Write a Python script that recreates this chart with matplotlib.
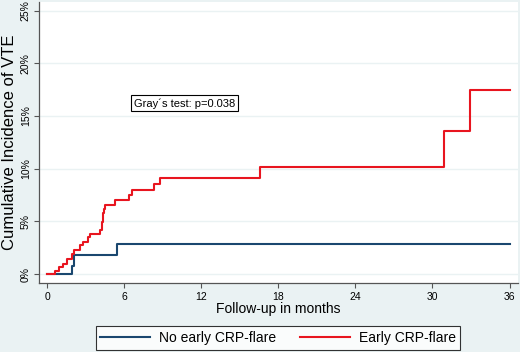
import matplotlib
matplotlib.use("Agg")
import matplotlib.pyplot as plt
from matplotlib.ticker import FuncFormatter
from matplotlib.lines import Line2D

# Data (months, cumulative incidence %)
no_flare_t = [0, 1.92, 2.12, 5.42, 36]
no_flare_y = [0, 0.8, 1.77, 2.88, 2.88]

flare_t = [0, 0.62, 0.88, 1.22, 1.53, 1.92, 2.05, 2.57, 2.82, 3.21, 3.34, 4.12,
           4.25, 4.32, 4.38, 4.45, 4.51, 5.29, 6.4, 6.63, 8.35, 8.8, 16.56, 30.87, 32.9, 36]
flare_y = [0, 0.31, 0.65, 0.97, 1.45, 1.93, 2.31, 2.72, 3.04, 3.52, 3.84, 4.16,
           4.95, 5.35, 5.75, 6.15, 6.55, 7.03, 7.47, 7.95, 8.5, 9.07, 10.2, 13.6, 17.5, 17.5]

x_ticks = [0, 6, 12, 18, 24, 30, 36]
y_ticks = [0, 5, 10, 15, 20, 25]
annotation = "Gray´s test: p=0.038"
series_labels = ["No early CRP-flare", "Early CRP-flare"]

BG = "#eaf2f3"
BLUE = "#1a476f"
RED = "#e8151f"

plt.rcParams['font.family'] = ['Liberation Sans', 'DejaVu Sans']

W, H = 520, 352
fig = plt.figure(figsize=(W / 100, H / 100), dpi=100, facecolor=BG)
ax = fig.add_axes([38.5 / W, 1 - 283 / H, (518 - 38.5) / W, (283 - 1.5) / H])
ax.set_facecolor("white")

ax.step(no_flare_t, no_flare_y, where="post", color=BLUE, lw=1.5, zorder=3)
ax.step(flare_t, flare_y, where="post", color=RED, lw=1.5, zorder=4)

ax.set_xlim(-0.68, 36.66)
ax.set_ylim(-0.85, 25.86)
ax.set_xticks(x_ticks)
ax.set_yticks(y_ticks)
ax.yaxis.set_major_formatter(FuncFormatter(lambda v, p: f"{int(v)}%"))
ax.grid(axis="y", color=BG, lw=1.0, zorder=0)
ax.tick_params(axis="both", labelsize=7.5, color="#555555", length=3.6, width=0.8)
for lab in ax.get_yticklabels():
    lab.set_rotation(90)
    lab.set_va("center")
ax.tick_params(axis="y", pad=2)
ax.tick_params(axis="x", pad=3)

for s in ["top", "right"]:
    ax.spines[s].set_visible(False)
for s in ["left", "bottom"]:
    ax.spines[s].set_color("#555555")
    ax.spines[s].set_linewidth(0.9)

ax.set_xlabel("Follow-up in months", fontsize=10, labelpad=0)
ax.set_ylabel("Cumulative Incidence of VTE", fontsize=12)
ax.yaxis.set_label_coords(-(38.5 - 17) / (518 - 38.5), 0.5)

ax.text(10.7, 16.2, annotation, fontsize=8, ha="center", va="center",
        bbox=dict(boxstyle="square,pad=0.25", fc="white", ec="black", lw=0.8), zorder=5)

handles = [Line2D([], [], color=BLUE, lw=1.5), Line2D([], [], color=RED, lw=1.5)]
leg = fig.legend(handles, series_labels, ncol=2, loc="center",
                 bbox_to_anchor=(278 / W, 1 - 338 / H), fontsize=10,
                 frameon=True, fancybox=False, edgecolor="black",
                 handlelength=3.6, columnspacing=1.65, borderpad=0.35,
                 handletextpad=0.65, borderaxespad=0)
leg.get_frame().set_linewidth(0.8)

fig.savefig("out.png", dpi=100, facecolor=BG)
